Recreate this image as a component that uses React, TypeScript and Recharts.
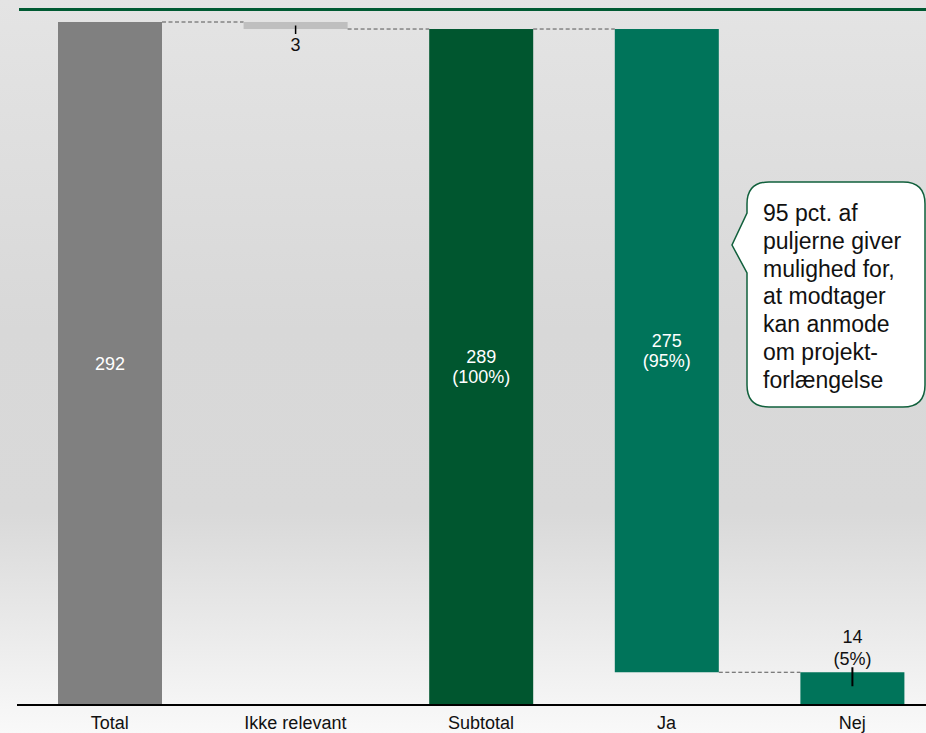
import React from 'react'
import { BarChart, Bar, XAxis, YAxis } from 'recharts'

const categories = ['Total', 'Ikke relevant', 'Subtotal', 'Ja', 'Nej']
const values = [292, 3, 289, 275, 14]
const stepKinds = ['total', 'down', 'total', 'down', 'down']
const shares = ['', '', '(100%)', '(95%)', '(5%)']
const calloutLines = [
  '95 pct. af',
  'puljerne giver',
  'mulighed for,',
  'at modtager',
  'kan anmode',
  'om projekt-',
  'forlængelse'
]

const barColors = ['#808080', '#bfbfbf', '#00562f', '#00745a', '#00745a']

// waterfall: totals start at 0, "down" steps hang from the running level
let level = 0
const data = categories.map((category, i) => {
  let low = 0
  let high = values[i]
  if (stepKinds[i] === 'total') {
    level = values[i]
  } else {
    high = level
    low = level - values[i]
    level = low
  }
  return { category, range: [low, high], value: values[i], share: shares[i], kind: stepKinds[i] }
})

const FONT = '"Liberation Sans", Arial, Helvetica, sans-serif'
const CHART_W = 960
const CHART_H = 733
const MARGIN = { top: 22, right: 15, left: 17, bottom: 0 }
const STEP = (CHART_W - MARGIN.left - MARGIN.right) / categories.length

const WaterfallBar = (props: any) => {
  const { x, y, width, height, index } = props
  const d = data[index]
  const cx = x + width / 2
  const cy = y + height / 2
  const connectorY = d.kind === 'total' ? y : y + height
  const isLast = index === data.length - 1
  const inside = height > 60
  const floating = d.range[0] > 0
  return (
    <g>
      <rect x={x} y={y} width={width} height={height} fill={barColors[index]} />
      {!isLast && (
        <line
          x1={x + width}
          x2={x + STEP}
          y1={connectorY}
          y2={connectorY}
          stroke="#555"
          strokeWidth={1}
          strokeDasharray="4 2.5"
        />
      )}
      {inside ? (
        <text x={cx} textAnchor="middle" fill="#fff" fontSize={18} fontFamily={FONT}>
          {d.share ? (
            <>
              <tspan x={cx} y={cy - 10} dominantBaseline="central">{d.value}</tspan>
              <tspan x={cx} y={cy + 10} dominantBaseline="central">{d.share}</tspan>
            </>
          ) : (
            <tspan x={cx} y={cy} dominantBaseline="central">{d.value}</tspan>
          )}
        </text>
      ) : floating ? (
        <g>
          <line x1={cx} x2={cx} y1={cy} y2={y + height + 5} stroke="#000" strokeWidth={1.5} />
          <text x={cx} y={y + height + 16} textAnchor="middle" dominantBaseline="central" fontSize={18} fontFamily={FONT} fill="#111">
            {d.value}
          </text>
        </g>
      ) : (
        <g>
          <line x1={cx} x2={cx} y1={y - 5} y2={y + 14} stroke="#000" strokeWidth={2} />
          <text x={cx} textAnchor="middle" fontSize={18} fontFamily={FONT} fill="#111">
            <tspan x={cx} y={y - 35} dominantBaseline="central">{d.value}</tspan>
            <tspan x={cx} y={y - 13} dominantBaseline="central">{d.share}</tspan>
          </text>
        </g>
      )}
    </g>
  )
}

const CategoryTick = (props: any) => {
  const { x, y, payload } = props
  return (
    <text x={x} y={y + 18} textAnchor="middle" dominantBaseline="central" fontSize={18} fontFamily={FONT} fill="#111">
      {payload.value}
    </text>
  )
}

const Callout = () => {
  const L = 747, T = 182, R = 925, B = 407, r = 22
  const path = `M ${L + r} ${T} H ${R - r} Q ${R} ${T} ${R} ${T + r} V ${B - r} Q ${R} ${B} ${R - r} ${B} H ${L + r} Q ${L} ${B} ${L} ${B - r} V 273 L 732 245 L ${L} 213 V ${T + r} Q ${L} ${T} ${L + r} ${T} Z`
  return (
    <svg width={926} height={733} style={{ position: 'absolute', left: 0, top: 0, pointerEvents: 'none' }}>
      <path d={path} fill="#fff" stroke="#11603c" strokeWidth={1.5} />
      {calloutLines.map((line, i) => (
        <text key={i} x={763} y={213 + i * 27.8} dominantBaseline="central" fontSize={23} fontFamily={FONT} fill="#111">
          {line}
        </text>
      ))}
    </svg>
  )
}

export default function App() {
  return (
    <div
      style={{
        position: 'fixed',
        left: 0,
        top: 0,
        width: 926,
        height: 733,
        overflow: 'hidden',
        background: 'linear-gradient(to bottom, #e4e4e4 0%, #d8d8d8 45%, #d9d9d9 70%, #f5f5f5 96%, #f9f9f9 100%)'
      }}
    >
      <div style={{ position: 'absolute', left: 19, top: 8, width: 926, height: 3, background: '#005a32' }} />
      <BarChart width={CHART_W} height={CHART_H} data={data} margin={MARGIN} barSize={104}>
        <XAxis
          dataKey="category"
          height={28}
          tickLine={false}
          tickSize={0}
          tickMargin={0}
          axisLine={{ stroke: '#000', strokeWidth: 2 }}
          tick={<CategoryTick />}
          interval={0}
        />
        <YAxis hide domain={[0, 'dataMax']} />
        <Bar dataKey="range" shape={<WaterfallBar />} isAnimationActive={false} />
      </BarChart>
      <Callout />
    </div>
  )
}
